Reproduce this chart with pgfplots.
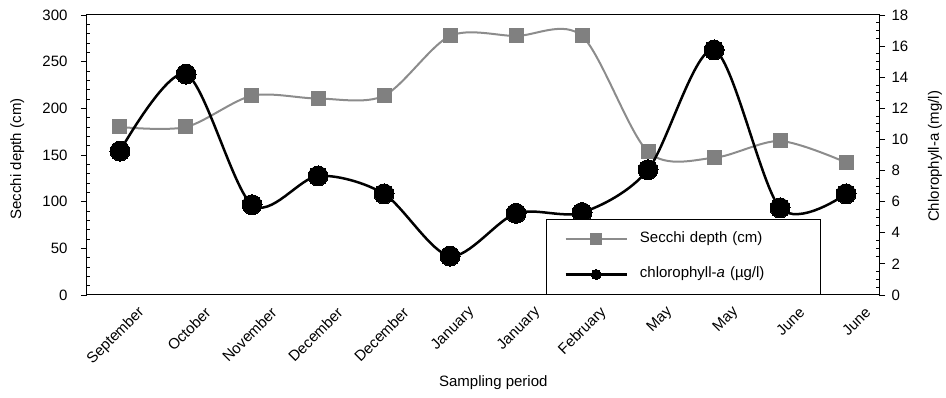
\documentclass[border=0pt]{standalone}
\usepackage{fontspec}
\setmainfont{Liberation Sans}
\usepackage{pgfplots}
\pgfplotsset{compat=1.18}
\definecolor{secchi}{RGB}{128,128,128}
\definecolor{secchiline}{RGB}{140,140,140}
\pgfplotsset{
  base/.style={
    width=792pt, height=280pt, scale only axis,
    xmin=-0.5, xmax=11.5,
    font=\fontsize{15}{17}\selectfont,
    /pgf/number format/assume math mode=true,
    axis line style={line width=1pt},
    tick style={line width=0.8pt, black},
    major tick length=6pt, minor tick length=3pt,
    clip=false,
  },
  secchistyle/.style={color=secchiline, line width=2pt, smooth, tension=0.5,
    mark=square*, mark size=7pt, mark options={fill=secchi, draw=secchi, line width=0pt}},
  chlstyle/.style={color=black, line width=2.5pt, smooth, tension=0.5,
    mark=*, mark size=10pt, mark options={fill=black, draw=black, line width=0pt}},
}
\begin{document}
\begin{tikzpicture}
\useasboundingbox (-87pt,-103pt) rectangle (859pt,295pt);
\begin{axis}[base,
  ymin=0, ymax=300, ytick={0,50,...,300}, minor y tick num=4,
  ytick pos=left, ytick align=outside,
  minor y tick style={xshift=3pt},
  yticklabel style={xshift=-10pt},
  xtick={0,...,11},
  xticklabels={September,October,November,December,December,January,January,February,May,May,June,June},
  xtick pos=bottom, xtick align=outside,
  major x tick style={draw=none},
  extra x ticks={-0.5,0.5,...,11.5},
  extra x tick labels={},
  extra x tick style={major tick length=5pt, xtick align=outside},
  xticklabel style={inner sep=0pt, anchor=east, xshift=22pt, yshift=-9pt, rotate=45},
  ylabel={Secchi depth (cm)},
  ylabel style={at={(axis description cs:-0.088,0.486)}, anchor=center},
  xlabel={Sampling period},
  xlabel style={at={(axis description cs:0.513,-0.314)}, anchor=center},
]
\addplot[secchistyle] coordinates {
(0,180) (1,180) (2,213.5) (3,210.5) (4,213.5) (5,277.5) (6,277.5) (7,277.5) (8,153.5) (9,147) (10,165) (11,142)
};
\end{axis}
\begin{axis}[base,
  ymin=0, ymax=18, ytick={0,2,...,18}, minor y tick num=3,
  ytick pos=right, yticklabel pos=right, ytick align=outside,
  minor y tick style={xshift=-3pt},
  yticklabel style={xshift=3pt},
  xtick=\empty,
  ylabel={Chlorophyll-a (mg/l)},
  ylabel style={at={(axis description cs:1.0707,0.495)}, anchor=center},
  legend style={at={(axis description cs:0.5795,0)}, anchor=south west,
    draw=black, line width=1pt, fill=white,
    inner xsep=18pt, inner ysep=13.5pt, row sep=22pt, column sep=12pt,
    nodes={inner sep=0pt, text height=10pt, text depth=3pt, text width=163pt, align=left,
      font=\fontsize{15}{17}\selectfont}},
  legend cell align=left,
  legend image code/.code={\draw[mark repeat=2,mark phase=2,#1] plot coordinates {(0pt,0pt) (30.5pt,0pt) (61pt,0pt)};},
]
\addlegendimage{secchistyle, legend image post style={mark size=5.5pt}}
\addlegendentry{Secchi depth (cm)}
\addplot[chlstyle, legend image post style={mark size=5pt}] coordinates {
(0,9.25) (1,14.2) (2,5.8) (3,7.65) (4,6.5) (5,2.5) (6,5.25) (7,5.3) (8,8.05) (9,15.75) (10,5.6) (11,6.5)
};
\addlegendentry{chlorophyll-\textit{a} (µg/l)}
\end{axis}
\end{tikzpicture}
\end{document}
